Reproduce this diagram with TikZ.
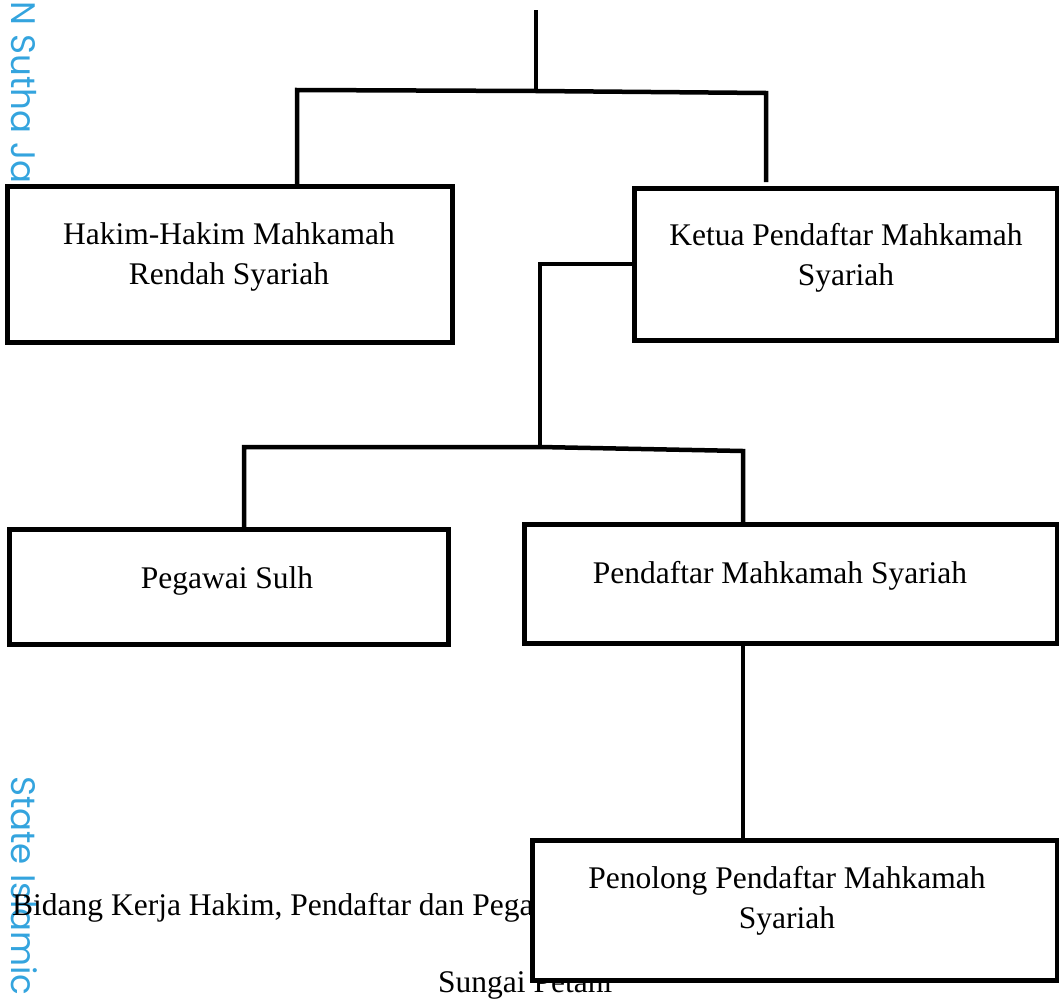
\documentclass[tikz,border=0pt]{standalone}
\usepackage{fontspec}
\setmainfont{Liberation Serif}
\newfontfamily\wmfont{Poppins}
\usepackage{tikz}
\usetikzlibrary{positioning}
\usepackage{xcolor}
\definecolor{wmblue}{RGB}{52, 164, 222}

\begin{document}
\begin{tikzpicture}[x=1pt, y=-1pt,
    box/.style={draw, fill=white, line width=5.5pt, inner sep=0pt},
    lbl/.style={inner sep=0pt, align=center, font=\fontsize{31.5}{40}\selectfont},
    link/.style={line width=4.5pt}]
    \useasboundingbox (0,0) rectangle (1059,1001);
    \clip (0,0) rectangle (1059,1001);

    % Watermark on the left edge
    \node[wmblue, rotate=-90, anchor=base west, inner sep=0pt, font=\wmfont\fontsize{34}{34}\selectfont]
        (wmtop) at (12,-30) {UIN Sutha Jambi};
    \node[wmblue, rotate=-90, anchor=base west, inner sep=0pt, font=\wmfont\fontsize{34}{34}\selectfont]
        (wmbot) at (12,776) {State Islamic University};

    % Caption behind the last box
    \node[lbl, anchor=base west] (cap1) at (12,915) {Bidang Kerja Hakim, Pendaftar dan Pegawai};
    \node[lbl, anchor=base west] (cap2) at (438,992) {Sungai Petani};

    % Boxes
    \node[box, minimum width=445pt, minimum height=156pt] (hakim) at (230,264.5) {};
    \node[box, minimum width=423pt, minimum height=152pt] (ketua) at (846,264.5) {};
    \node[box, minimum width=439pt, minimum height=115pt] (sulh) at (229,587) {};
    \node[box, minimum width=533pt, minimum height=119pt] (daftar) at (791,584) {};
    \node[box, minimum width=525pt, minimum height=140pt] (penolong) at (795,910.5) {};

    % Box texts
    \node[lbl, anchor=north] (hakimtxt) at (229,222.5) {Hakim-Hakim Mahkamah\\Rendah Syariah};
    \node[lbl, anchor=north] (ketuatxt) at (846,223.5) {Ketua Pendaftar Mahkamah\\Syariah};
    \node[lbl, anchor=base] (sulhtxt) at (227,588) {Pegawai Sulh};
    \node[lbl, anchor=base] (daftartxt) at (780,583) {Pendaftar Mahkamah Syariah};
    \node[lbl, anchor=north] (penolongtxt) at (787,866.5) {Penolong Pendaftar Mahkamah\\Syariah};

    % Top branch
    \coordinate (root) at (536,10);
    \coordinate (fork) at (536,91);
    \coordinate (forkl) at (297,90);
    \coordinate (forkr) at (766,93);
    \draw[link] (root) -- (fork);
    \draw[link] (forkl |- hakim.north) -- (forkl) -- (fork) -- (forkr) -- (766,182);

    % Branch from Ketua Pendaftar
    \coordinate (bend) at (540,264);
    \coordinate (fork2) at (540,447);
    \coordinate (fork2l) at (244,447);
    \coordinate (fork2r) at (743,451);
    \draw[link] (ketua.west |- bend) -- (bend) -- (fork2);
    \draw[link] (fork2l |- sulh.north) -- (fork2l) -- (fork2) -- (fork2r) -- (fork2r |- daftar.north);

    % Pendaftar to Penolong
    \draw[link] (daftar.south -| fork2r) -- (penolong.north -| fork2r);
\end{tikzpicture}
\end{document}
